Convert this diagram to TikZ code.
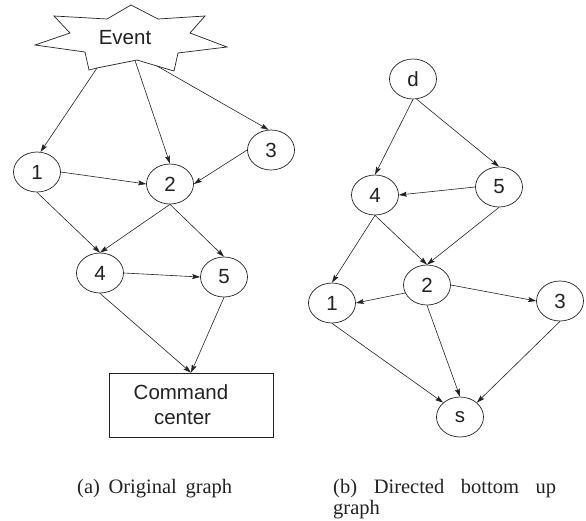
\documentclass[tikz,border=0pt]{standalone}
\usepackage{fontspec}
\setmainfont{Liberation Serif}
\setsansfont{Liberation Sans}
\usetikzlibrary{shapes.geometric,arrows.meta}
\definecolor{ink}{HTML}{222222}
\tikzset{
  vtx/.style={draw=ink, ellipse, minimum width=47pt, minimum height=40pt, inner sep=0pt,
              font=\sffamily\fontsize{20.5}{24}\selectfont, text=ink, line width=0.7pt},
  edge/.style={draw=ink, line width=0.6pt, -{Stealth[length=8pt,width=5pt,inset=1.5pt]}},
  capt/.style={font=\fontsize{20.5}{21.5}\selectfont, text=ink, inner sep=0pt}
}
\begin{document}
\begin{tikzpicture}[x=1pt,y=-1pt]
\useasboundingbox (0,0) rectangle (586,520);
% ---------- (a) original graph ----------
\draw[ink, line width=0.7pt, line join=miter]
  (131,5) -- (158,19) -- (205,16) -- (190,33) -- (227,47) -- (178,53) -- (174,71)
  -- (157,66) coordinate (e3) -- (137,60) -- (97,68) coordinate (e1)
  -- (89,70) -- (85,52) -- (35,45) -- (70,33) -- (54,16) -- (107,19) -- cycle;
\coordinate (e2) at (135,60.5);
\node[font=\sffamily\fontsize{20.5}{24}\selectfont, text=ink] (ev) at (125,37.5) {Event};

\node[vtx] (a1) at (37,172) {1};
\node[vtx] (a2) at (170,184) {2};
\node[vtx] (a3) at (271,150) {3};
\node[vtx] (a4) at (100,273) {4};
\node[vtx] (a5) at (224,277) {5};
\node[draw=ink, line width=0.7pt, minimum width=164pt, minimum height=64pt, inner sep=0pt,
      align=center, text=ink, font=\sffamily\fontsize{20.5}{25}\selectfont]
      (cc) at (191,405) {Command\hspace*{20pt}\\center\hspace*{17pt}};

\draw[edge] (e1) -- (a1.80);
\draw[edge] (e2) -- (a2.north);
\draw[edge] (e3) -- (a3.97);
\draw[edge] (a1.east) -- (a2.west);
\draw[edge] (a3.west) -- (a2.east);
\draw[edge] (a1.south) -- (a4.north);
\draw[edge] (a2.south) -- (a4.north);
\draw[edge] (a2.south) -- (a5.north);
\draw[edge] (a4.east) -- (a5.west);
\draw[edge] (a4.south) -- (cc.north);
\draw[edge] (a5.south) -- (cc.north);

% ---------- (b) directed bottom up graph ----------
\node[vtx] (d)  at (413,79) {d};
\node[vtx] (b4) at (375,195) {4};
\node[vtx] (b5) at (499,187) {5};
\node[vtx] (b2) at (427,285) {2};
\node[vtx] (b1) at (332,303) {1};
\node[vtx] (b3) at (560,301) {3};
\node[vtx] (s)  at (460,417) {s};

\draw[edge] (d.south) -- (b4.north);
\draw[edge] (d.-80) -- (b5.north);
\draw[edge] (b5.west) -- (b4.east);
\draw[edge] (b4.south) -- (b1.north);
\draw[edge] (b4.south) -- (b2.north);
\draw[edge] (b5.south) -- (b2.north);
\draw[edge] (b2.-160) -- (b1.east);
\draw[edge] (b2.east) -- (b3.west);
\draw[edge] (b1.south) -- (s.north west);
\draw[edge] (b2.south) -- (s.north);
\draw[edge] (b3.south) -- (s.north east);

% ---------- captions ----------
\node[capt, anchor=base west] (ca) at (77,493) {\hbox to 155pt{(a) Original graph}};
\node[capt, anchor=base west] (cb) at (333,493)
  {\vtop{\baselineskip=21.5pt\hbox to 223pt{(b) Directed bottom up}\hbox{graph}}};
\end{tikzpicture}
\end{document}
